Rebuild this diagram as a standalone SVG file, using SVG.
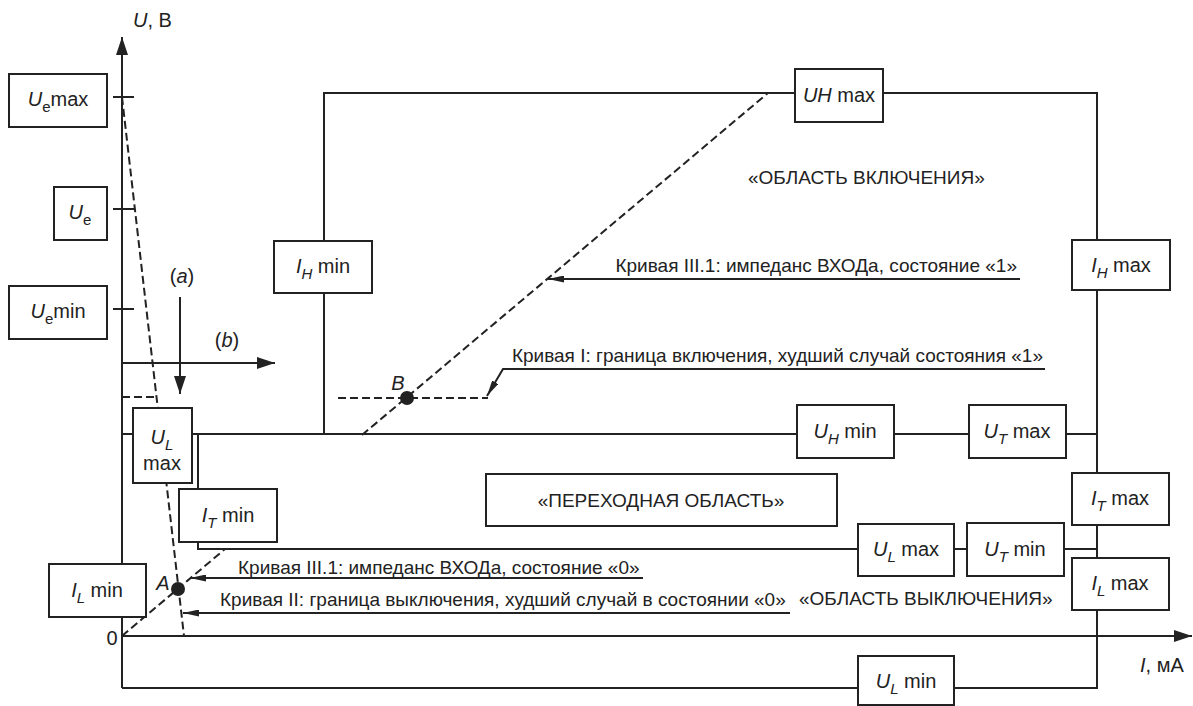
<svg xmlns="http://www.w3.org/2000/svg" width="1193" height="706" viewBox="0 0 1193 706">
<style>
.ln{stroke:#222;stroke-width:2;fill:none}
.dash{stroke:#222;stroke-width:2;fill:none;stroke-dasharray:8 4}
.box{fill:#fff;stroke:#222;stroke-width:2}
text{font-family:"Liberation Sans",Arial,sans-serif;font-size:20px;fill:#222}
.lbl{font-size:19px}
.it{font-style:italic}
.sub{font-size:15px}
</style>
<defs>
<marker id="big" markerUnits="userSpaceOnUse" markerWidth="18" markerHeight="12" refX="18" refY="6" orient="auto"><path d="M0,0 L18,6 L0,12 z" fill="#222"/></marker>
<marker id="sm" markerUnits="userSpaceOnUse" markerWidth="16" markerHeight="7" refX="16" refY="3.5" orient="auto"><path d="M0,0 L16,3.5 L0,7 z" fill="#222"/></marker>
</defs>
<rect width="1193" height="706" fill="#fff"/>
<g id="connectors">
<path class="ln" d="M122,688 L122,37" marker-end="url(#big)"/>
<path class="ln" d="M122,636 L1192,636" marker-end="url(#big)"/>
<path class="ln" d="M113,97 H134 M113,209 H134 M113,309 H134"/>
<path class="ln" d="M122,688 H1097 V93 H324 V435"/>
<path class="ln" d="M122,434 H1097"/>
<path class="ln" d="M198,435 V549 H1097"/>
<path class="ln" d="M180,297 V394" marker-end="url(#big)"/>
<path class="ln" d="M122,363 H275" marker-end="url(#big)"/>
<path class="dash" d="M122,97 L184,636"/>
<path class="dash" d="M122,397 H157"/>
<path class="dash" d="M122,636 L225,549"/>
<path class="dash" d="M362,435 L768,93"/>
<path class="dash" d="M338,398 H488"/>
<path class="ln" d="M1020,279 H548" marker-end="url(#sm)"/>
<path class="ln" d="M1045,369 H503 L487,396" marker-end="url(#sm)"/>
<path class="ln" d="M643,578 H190" marker-end="url(#sm)"/>
<path class="ln" d="M790,613 H183" marker-end="url(#sm)"/>
<circle cx="178" cy="589" r="7" fill="#222"/>
<circle cx="407" cy="398" r="7" fill="#222"/>
</g>
<g id="axis-labels">
<text x="133" y="27"><tspan class="it">U</tspan>, В</text>
<text x="1140" y="672"><tspan class="it">I</tspan>, мА</text>
<text x="112" y="645" text-anchor="middle">0</text>
<text x="163" y="590" text-anchor="middle" class="it">A</text>
<text x="398" y="390" text-anchor="middle" class="it">B</text>
<text x="182" y="283" text-anchor="middle">(<tspan class="it">a</tspan>)</text>
<text x="227" y="347" text-anchor="middle">(<tspan class="it">b</tspan>)</text>
</g>
<g id="Uemax"><rect class="box" x="9" y="74" width="98" height="53"/><text x="58" y="106" text-anchor="middle"><tspan class="it">U</tspan><tspan class="sub" dy="6">e</tspan><tspan dy="-6">max</tspan></text></g>
<g id="Ue"><rect class="box" x="54" y="187" width="53" height="53"/><text x="80" y="219" text-anchor="middle"><tspan class="it">U</tspan><tspan class="sub" dy="6">e</tspan></text></g>
<g id="Uemin"><rect class="box" x="9" y="286" width="98" height="53"/><text x="58" y="318" text-anchor="middle"><tspan class="it">U</tspan><tspan class="sub" dy="6">e</tspan><tspan dy="-6">min</tspan></text></g>
<g id="ULmax1"><rect class="box" x="133" y="408" width="59" height="75"/><text x="162" y="444" text-anchor="middle"><tspan class="it">U</tspan><tspan class="sub it" dy="6">L</tspan></text><text x="162" y="470" text-anchor="middle">max</text></g>
<g id="ITmin"><rect class="box" x="179" y="489" width="98" height="53"/><text x="228" y="522" text-anchor="middle"><tspan class="it">I</tspan><tspan class="sub it" dy="6">T</tspan><tspan dy="-6"> min</tspan></text></g>
<g id="ILmin"><rect class="box" x="49" y="564" width="97" height="53"/><text x="97" y="597" text-anchor="middle"><tspan class="it">I</tspan><tspan class="sub it" dy="6">L</tspan><tspan dy="-6"> min</tspan></text></g>
<g id="IHmin"><rect class="box" x="274" y="241" width="98" height="52"/><text x="323" y="273" text-anchor="middle"><tspan class="it">I</tspan><tspan class="sub it" dy="6">H</tspan><tspan dy="-6"> min</tspan></text></g>
<g id="UHmax"><rect class="box" x="795" y="69" width="88" height="53"/><text x="839" y="102" text-anchor="middle"><tspan class="it">UH</tspan> max</text></g>
<g id="IHmax"><rect class="box" x="1072" y="240" width="98" height="50"/><text x="1121" y="272" text-anchor="middle"><tspan class="it">I</tspan><tspan class="sub it" dy="6">H</tspan><tspan dy="-6"> max</tspan></text></g>
<g id="UHmin"><rect class="box" x="797" y="405" width="97" height="53"/><text x="845" y="438" text-anchor="middle"><tspan class="it">U</tspan><tspan class="sub it" dy="6">H</tspan><tspan dy="-6"> min</tspan></text></g>
<g id="UTmax"><rect class="box" x="969" y="405" width="97" height="53"/><text x="1017" y="438" text-anchor="middle"><tspan class="it">U</tspan><tspan class="sub it" dy="6">T</tspan><tspan dy="-6"> max</tspan></text></g>
<g id="ITmax"><rect class="box" x="1072" y="473" width="97" height="52"/><text x="1120" y="505" text-anchor="middle"><tspan class="it">I</tspan><tspan class="sub it" dy="6">T</tspan><tspan dy="-6"> max</tspan></text></g>
<g id="ULmax2"><rect class="box" x="858" y="524" width="96" height="52"/><text x="906" y="556" text-anchor="middle"><tspan class="it">U</tspan><tspan class="sub it" dy="6">L</tspan><tspan dy="-6"> max</tspan></text></g>
<g id="UTmin"><rect class="box" x="967" y="523" width="97" height="53"/><text x="1015" y="556" text-anchor="middle"><tspan class="it">U</tspan><tspan class="sub it" dy="6">T</tspan><tspan dy="-6"> min</tspan></text></g>
<g id="ILmax"><rect class="box" x="1072" y="558" width="97" height="52"/><text x="1120" y="590" text-anchor="middle"><tspan class="it">I</tspan><tspan class="sub it" dy="6">L</tspan><tspan dy="-6"> max</tspan></text></g>
<g id="ULmin"><rect class="box" x="858" y="656" width="96" height="49"/><text x="906" y="688" text-anchor="middle"><tspan class="it">U</tspan><tspan class="sub it" dy="6">L</tspan><tspan dy="-6"> min</tspan></text></g>
<g id="transition"><rect class="box" x="486" y="474" width="351" height="52"/><text x="661" y="507" text-anchor="middle" class="lbl">«ПЕРЕХОДНАЯ ОБЛАСТЬ»</text></g>
<g id="region-labels">
<text x="748" y="184" class="lbl">«ОБЛАСТЬ ВКЛЮЧЕНИЯ»</text>
<text x="799" y="605" class="lbl">«ОБЛАСТЬ ВЫКЛЮЧЕНИЯ»</text>
<text x="1017" y="272" text-anchor="end" class="lbl">Кривая III.1: импеданс ВХОДа, состояние «1»</text>
<text x="1043" y="362" text-anchor="end" class="lbl">Кривая I: граница включения, худший случай состояния «1»</text>
<text x="238" y="574" class="lbl">Кривая III.1: импеданс ВХОДа, состояние «0»</text>
<text x="220" y="606" class="lbl">Кривая II: граница выключения, худший случай в состоянии «0»</text>
</g>
</svg>
